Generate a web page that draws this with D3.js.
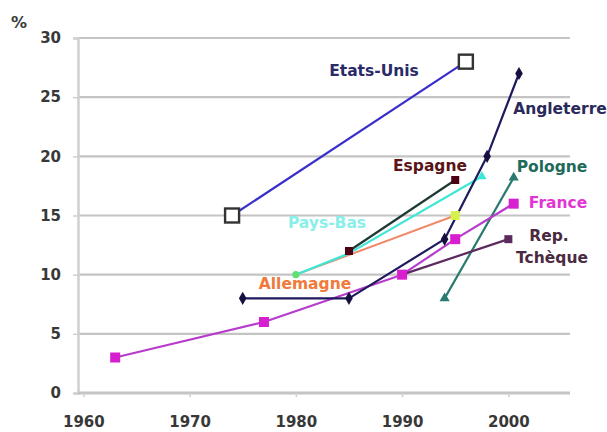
<!DOCTYPE html>
<html>
<head>
<meta charset="utf-8">
<script src="https://cdn.jsdelivr.net/npm/d3@7/dist/d3.min.js"></script>
<style>
  html, body { margin: 0; padding: 0; background: #fff; }
  svg { display: block; }
</style>
</head>
<body>
<div id="chart"></div>
<script>
// ---- data ----
const yTicks = [0, 5, 10, 15, 20, 25, 30];
const xTicks = [1960, 1970, 1980, 1990, 2000];

const etatsUnisYears = [1974, 1996];
const etatsUnisValues = [15, 28];

const angleterreYears = [1975, 1985, 1994, 1998, 2001];
const angleterreValues = [8, 8, 13, 20, 27];

const espagneYears = [1985, 1995];
const espagneValues = [12, 18];

const paysBasYears = [1980, 1985, 1997.5];
const paysBasValues = [10, 11.8, 18.3];

const allemagneYears = [1980, 1995];
const allemagneValues = [10, 15];

const pologneYears = [1994, 2000.5];
const pologneValues = [8, 18.2];

const franceYears = [1963, 1977, 1990, 1995, 2000.5];
const franceValues = [3, 6, 10, 13, 16];

const tchequeYears = [1990, 2000];
const tchequeValues = [10, 13];

// ---- layout ----
const W = 607, H = 432;
const svg = d3.select("#chart").append("svg").attr("width", W).attr("height", H);

const x = d3.scaleLinear().domain([1959.5, 2005.8]).range([78, 570]);
const y = d3.scaleLinear().domain([0, 30]).range([393, 38]);

// gridlines
svg.append("g").selectAll("line").data(yTicks.filter(d => d > 0)).join("line")
  .attr("x1", x.range()[0]).attr("x2", x.range()[1])
  .attr("y1", d => y(d)).attr("y2", d => y(d))
  .attr("stroke", "#c4c4c4").attr("stroke-width", 2.2);

// y axis
const yAxis = svg.append("g").attr("transform", `translate(${x.range()[0]},0)`)
  .call(d3.axisLeft(y).tickValues(yTicks).tickSize(5).tickPadding(12));
yAxis.select(".domain").attr("stroke", "#d0d0d0").attr("stroke-width", 2.5);
yAxis.selectAll(".tick line").attr("stroke", "#cfcfcf").attr("stroke-width", 1.5);
yAxis.selectAll("text").attr("font-family", "DejaVu Sans").attr("font-weight", "bold")
  .attr("font-size", 15).attr("fill", "#383838");

// x axis
const xAxis = svg.append("g").attr("transform", `translate(0,${y(0)})`)
  .call(d3.axisBottom(x).tickValues(xTicks).tickFormat(d3.format("d")).tickSize(4).tickPadding(19));
xAxis.select(".domain").attr("stroke", "#c4c4c4").attr("stroke-width", 3).attr("d", `M${x.range()[0]},0H${x.range()[1]}`);
xAxis.selectAll(".tick line").attr("stroke", "#cfcfcf").attr("stroke-width", 1.5);
xAxis.selectAll("text").attr("font-family", "DejaVu Sans").attr("font-weight", "bold")
  .attr("font-size", 15).attr("fill", "#383838");

svg.append("text").attr("x", 11).attr("y", 28).text("%")
  .attr("font-family", "DejaVu Sans").attr("font-size", 16).attr("font-weight", "bold").attr("fill", "#3a3a3a");

const line = d3.line().x(d => x(d[0])).y(d => y(d[1]));
const zip = (a, b) => a.map((v, i) => [v, b[i]]);

function drawSeries(years, values, color, width) {
  svg.append("path").datum(zip(years, values))
    .attr("d", line).attr("fill", "none").attr("stroke", color).attr("stroke-width", width)
    .attr("stroke-linejoin", "round");
}

function squares(years, values, size, fill, stroke, sw) {
  svg.append("g").selectAll("rect").data(zip(years, values)).join("rect")
    .attr("x", d => x(d[0]) - size / 2).attr("y", d => y(d[1]) - size / 2)
    .attr("width", size).attr("height", size)
    .attr("fill", fill).attr("stroke", stroke).attr("stroke-width", sw);
}

function symbols(years, values, type, size, fill, rotate) {
  svg.append("g").selectAll("path").data(zip(years, values)).join("path")
    .attr("d", d3.symbol().type(type).size(size))
    .attr("transform", d => `translate(${x(d[0])},${y(d[1])}) rotate(${rotate || 0})`)
    .attr("fill", fill);
}

// lines
drawSeries(allemagneYears, allemagneValues, "#f08a6a", 2);
drawSeries(paysBasYears, paysBasValues, "#3ee6d6", 2.2);
drawSeries(espagneYears, espagneValues, "#1f3a35", 2.2);
drawSeries(pologneYears, pologneValues, "#2a7a70", 2.2);
drawSeries(franceYears, franceValues, "#b83ccc", 2.2);
drawSeries(tchequeYears, tchequeValues, "#5c2a5e", 2.2);
drawSeries(angleterreYears, angleterreValues, "#1e1a5e", 2.2);
drawSeries(etatsUnisYears, etatsUnisValues, "#3a2ecb", 2.2);

// markers
symbols([allemagneYears[0]], [allemagneValues[0]], d3.symbolCircle, 40, "#60e070");
symbols([allemagneYears[1]], [allemagneValues[1]], d3.symbolSquare, 80, "#d8f04a");
symbols([paysBasYears[2]], [paysBasValues[2]], d3.symbolTriangle, 40, "#3ee6d6");
squares(espagneYears, espagneValues, 8, "#4a0012", "none", 0);
symbols(pologneYears, pologneValues, d3.symbolTriangle, 45, "#2a7a70");
squares(franceYears, franceValues, 10, "#d81fd0", "none", 0);
squares([tchequeYears[1]], [tchequeValues[1]], 8, "#5c2a5e", "none", 0);
symbols(angleterreYears, angleterreValues, d3.symbolDiamond, 50, "#151040");
squares(etatsUnisYears, etatsUnisValues, 14, "#fff", "#333", 2.4);

// series labels
const labels = [
  { t: "Etats-Unis", x: 374, y: 70, c: "#2a2a68" },
  { t: "Angleterre", x: 560, y: 108, c: "#2a2a5a" },
  { t: "Espagne", x: 430, y: 165, c: "#5a1418" },
  { t: "Pologne", x: 552, y: 166, c: "#1f6a5a" },
  { t: "France", x: 558, y: 202, c: "#e236d4" },
  { t: "Rep.", x: 549, y: 235, c: "#4a2a40" },
  { t: "Tchèque", x: 552, y: 257, c: "#4a2a40" },
  { t: "Pays-Bas", x: 327, y: 222, c: "#8aeeea" },
  { t: "Allemagne", x: 305, y: 283, c: "#f07a3a" }
];
svg.append("g").selectAll("text").data(labels).join("text")
  .attr("x", d => d.x).attr("y", d => d.y).attr("dy", "0.36em")
  .attr("text-anchor", "middle")
  .attr("font-family", "DejaVu Sans").attr("font-weight", "bold").attr("font-size", 15.5)
  .attr("fill", d => d.c).text(d => d.t);
</script>
</body>
</html>
